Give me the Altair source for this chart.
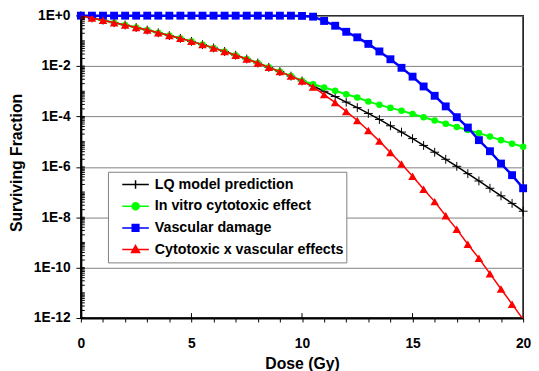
import altair as alt
import pandas as pd

FONT = "Liberation Sans"

# ---------------- data (log10 of surviving fraction) -------------
dose = [0, 0.5, 1, 1.5, 2, 2.5, 3, 3.5, 4, 4.5, 5, 5.5, 6, 6.5, 7, 7.5, 8, 8.5, 9, 9.5, 10,
        10.5, 11, 11.5, 12, 12.5, 13, 13.5, 14, 14.5, 15, 15.5, 16, 16.5, 17, 17.5, 18,
        18.5, 19, 19.5, 20]

lq_log = [0.00, -0.09, -0.18, -0.28, -0.37, -0.47, -0.57, -0.68, -0.79, -0.90, -1.02,
          -1.15, -1.28, -1.42, -1.57, -1.72, -1.88, -2.05, -2.22, -2.40, -2.59,
          -2.79, -3.00, -3.21, -3.43, -3.65, -3.88, -4.12, -4.37, -4.62, -4.88,
          -5.15, -5.42, -5.70, -5.98, -6.27, -6.56, -6.85, -7.15, -7.45, -7.76]

vitro_log = [0.00, -0.09, -0.18, -0.28, -0.37, -0.47, -0.57, -0.68, -0.79, -0.90, -1.02,
             -1.15, -1.28, -1.42, -1.57, -1.72, -1.88, -2.05, -2.22, -2.40, -2.58,
             -2.72, -2.85, -2.98, -3.12, -3.25, -3.41, -3.54, -3.66, -3.77, -3.90,
             -4.03, -4.16, -4.29, -4.42, -4.54, -4.66, -4.80, -4.94, -5.08, -5.20]

vasc_log = [0.00, 0.00, 0.00, 0.00, 0.00, 0.00, 0.00, 0.00, 0.00, 0.00, 0.00,
            0.00, 0.00, 0.00, 0.00, 0.00, 0.00, 0.00, 0.00, 0.00, -0.01,
            -0.04, -0.21, -0.40, -0.64, -0.86, -1.12, -1.42, -1.73, -2.07, -2.42,
            -2.81, -3.18, -3.60, -4.03, -4.44, -4.94, -5.38, -5.87, -6.33, -6.85]

combo_log = [0.00, -0.09, -0.18, -0.28, -0.37, -0.47, -0.57, -0.68, -0.79, -0.90, -1.02,
             -1.15, -1.28, -1.42, -1.57, -1.72, -1.88, -2.05, -2.22, -2.40, -2.59,
             -2.83, -3.13, -3.45, -3.80, -4.16, -4.56, -4.98, -5.43, -5.89, -6.37,
             -6.89, -7.38, -7.94, -8.48, -9.07, -9.63, -10.24, -10.85, -11.45, -12.05]

series_names = ["LQ model prediction", "In vitro cytotoxic effect",
                "Vascular damage", "Cytotoxic x vascular effects"]
series_logs = [lq_log, vitro_log, vasc_log, combo_log]

y_major = [1, 1e-2, 1e-4, 1e-6, 1e-8, 1e-10, 1e-12]
x_ticks = list(range(0, 21))
x_major_inner = [5, 10, 15]
y_minor = [k * 10.0 ** n for n in range(-12, 0) for k in range(1, 10)]

rows = []
for name, logs in zip(series_names, series_logs):
    for d, lv in zip(dose, logs):
        rows.append({"series": name, "dose": d, "sf": 10 ** lv})
df = pd.DataFrame(rows)

# ---------------- styles ----------------
W, H = 449, 307
colors = ["#000000", "#00ff00", "#0000ff", "#ff0000"]
line_widths = [1.5, 2, 2.5, 1.5]
point_shapes = ["M0,-1V1M-1,0H1", "circle", "square", "triangle-up"]
point_sizes = [81, 44, 64, 76]
point_filled = [False, True, True, True]
clip_flags = [False, False, False, True]
legend_paths = [
    "M-1,0H1M0,-0.32V0.32",
    "M-1,0H1M-0.27,0A0.27,0.27,0,1,0,0.27,0A0.27,0.27,0,1,0,-0.27,0Z",
    "M-1,0H1M-0.25,-0.25H0.25V0.25H-0.25Z",
    "M-1,0H1M0,-0.3L0.3,0.22L-0.3,0.22Z",
]

x_scale = alt.Scale(domain=[0, 20], nice=False, zero=False)
y_scale = alt.Scale(type="log", domain=[1e-12, 1], nice=False)

x_axis = alt.Axis(
    values=x_ticks, labelExpr="datum.value % 5 == 0 ? '' + datum.value : ''",
    grid=False, tickSize=4, tickColor="black", tickWidth=1,
    domainColor="black", domainWidth=2, labelFlush=False, labelOverlap=False,
    labelFont=FONT, labelFontSize=14, labelFontWeight="bold", labelColor="black",
    labelPadding=15, titleFont=FONT, titleFontSize=16, titleFontWeight="bold",
    titleColor="black", titleY=38,
)
y_axis = alt.Axis(
    values=y_major,
    labelExpr="'1E' + (round(log(datum.value)/LN10) >= 0 ? '+' : '') + round(log(datum.value)/LN10)",
    grid=True, gridColor="#808080", gridWidth=1,
    tickSize=5, tickColor="black", tickWidth=1,
    domainColor="black", domainWidth=2, labelOverlap=False, labelFlush=False,
    labelFont=FONT, labelFontSize=14, labelFontWeight="bold", labelColor="black",
    labelPadding=6, titleFont=FONT, titleFontSize=16, titleFontWeight="bold",
    titleColor="black", titleX=-57, titleY=149,
)

X = alt.X("dose:Q", scale=x_scale, axis=x_axis, title="Dose (Gy)")
Y = alt.Y("sf:Q", scale=y_scale, axis=y_axis, title="Surviving Fraction")

layers = []

for i, name in enumerate(series_names):
    base = alt.Chart(df).transform_filter(alt.datum.series == name)
    layers.append(
        base.mark_line(color=colors[i], strokeWidth=line_widths[i], clip=clip_flags[i]).encode(x=X, y=Y)
    )
    layers.append(
        base.mark_point(shape=point_shapes[i], size=point_sizes[i], filled=point_filled[i],
                        color=colors[i], opacity=1, strokeWidth=1,
                        clip=clip_flags[i]).encode(x=X, y=Y)
    )

# inner tick marks (share the same axis definitions so the axes merge)
layers.append(
    alt.Chart(pd.DataFrame({"sf": y_minor})).mark_rule(color="black", strokeWidth=1).encode(
        y=Y, x=alt.value(0), x2=alt.value(4)
    )
)
layers.append(
    alt.Chart(pd.DataFrame({"dose": x_major_inner})).mark_rule(color="black", strokeWidth=1).encode(
        x=X, y=alt.value(H - 5), y2=alt.value(H)
    )
)

leg = alt.Legend(
    orient="none", legendX=27.5, legendY=158.5, title=None,
    symbolSize=729, symbolStrokeWidth=1.5, clipHeight=22, rowPadding=0,
    labelFont=FONT, labelFontSize=14.5, labelFontWeight="bold", labelColor="black",
    labelLimit=400, strokeColor="#808080", fillColor="white", padding=2,
    symbolOffset=11.5, labelOffset=5,
    labelExpr="datum.label + '\u00a0\u00a0'",
)
layers.append(
    alt.Chart(df).transform_filter("false").mark_point(filled=True, opacity=1).encode(
        x=X, y=Y,
        shape=alt.Shape("series:N", scale=alt.Scale(domain=series_names, range=legend_paths), legend=leg),
        fill=alt.Fill("series:N", scale=alt.Scale(domain=series_names, range=colors), legend=leg),
        stroke=alt.Stroke("series:N", scale=alt.Scale(domain=series_names, range=colors), legend=leg),
    )
)

chart = alt.layer(*layers).properties(
    width=W, height=H,
    autosize=alt.AutoSizeParams(type="none"),
    padding={"left": 74, "top": 5, "right": 8, "bottom": 51},
    background="white",
).configure_view(stroke="black", strokeWidth=1.5)

chart.save("out.html", embed_options={"renderer": "svg", "actions": False})
